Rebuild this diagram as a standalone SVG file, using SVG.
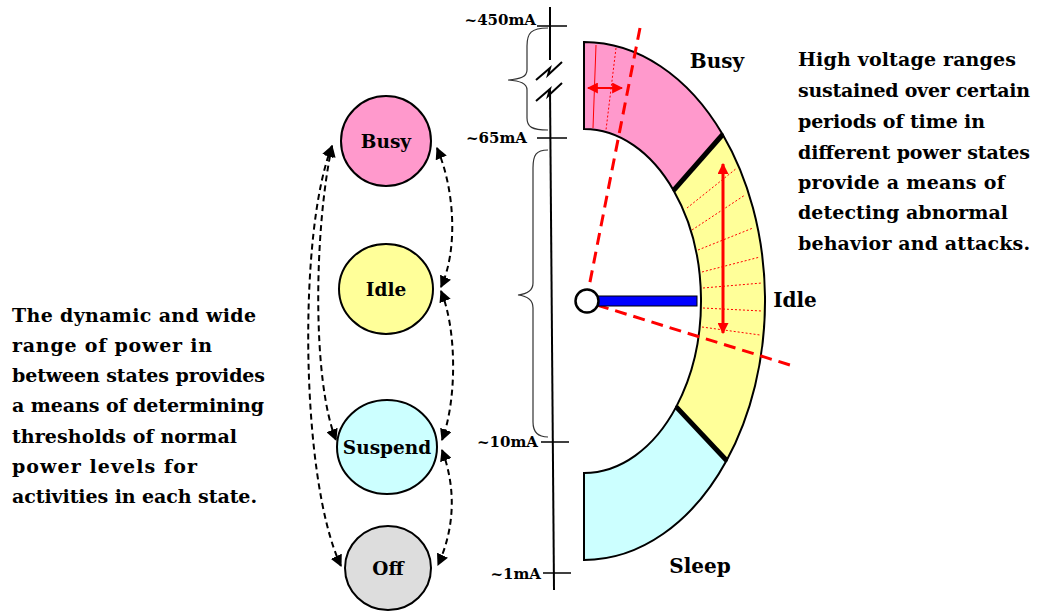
<svg xmlns="http://www.w3.org/2000/svg" width="1038" height="611" viewBox="0 0 1038 611">
<style>
  .t{font-family:"DejaVu Serif","Liberation Serif",serif;font-weight:bold;fill:#000}
  .para{font-size:19px}
  .node{font-size:18.5px;text-anchor:middle}
  .ax{font-size:15px;text-anchor:end}
  .lbl{font-size:20px;text-anchor:middle}
  .conn{fill:none;stroke:#000;stroke-width:2;stroke-dasharray:6,4}
  .band{stroke:#000;stroke-width:2}
  .dot{stroke:#ff0000;stroke-width:1;stroke-dasharray:2,2}
  .rdash{stroke:#ff0000;stroke-width:3;stroke-dasharray:12,7;fill:none}
  .brace{fill:none;stroke:#333;stroke-width:1.2}
</style>
<defs>
  <marker id="ah" viewBox="0 0 10 10" refX="9" refY="5" markerWidth="12" markerHeight="12" markerUnits="userSpaceOnUse" orient="auto-start-reverse">
    <path d="M0,0 L10,5 L0,10 z" fill="#000"/>
  </marker>
  <marker id="rah" viewBox="0 0 10 10" refX="9" refY="5" markerWidth="11" markerHeight="11" markerUnits="userSpaceOnUse" orient="auto-start-reverse">
    <path d="M0,0 L10,5 L0,10 z" fill="#ff0000"/>
  </marker>
</defs>
<rect width="1038" height="611" fill="#ffffff"/>

<!-- connectors -->
<g id="connectors">
  <path class="conn" d="M332,146 C298,230 300,480 341,566" marker-start="url(#ah)" marker-end="url(#ah)"/>
  <path class="conn" d="M332,146 C314,230 312,380 336,440" marker-start="url(#ah)" marker-end="url(#ah)"/>
  <path class="conn" d="M437,148 C455,190 458,250 441,287" marker-start="url(#ah)" marker-end="url(#ah)"/>
  <path class="conn" d="M441,291 C457,330 457,400 442,440" marker-start="url(#ah)" marker-end="url(#ah)"/>
  <path class="conn" d="M442,450 C457,490 454,530 438,565" marker-start="url(#ah)" marker-end="url(#ah)"/>
</g>

<!-- state nodes -->
<g id="node-busy">
  <ellipse cx="386" cy="141" rx="45" ry="45" fill="#ff99cc" stroke="#000" stroke-width="2"/>
  <text class="t node" x="386" y="148">Busy</text>
</g>
<g id="node-idle">
  <ellipse cx="386" cy="289" rx="47" ry="45" fill="#ffff99" stroke="#000" stroke-width="2"/>
  <text class="t node" x="386" y="296">Idle</text>
</g>
<g id="node-suspend">
  <ellipse cx="387" cy="447" rx="50" ry="47" fill="#ccffff" stroke="#000" stroke-width="2"/>
  <text class="t node" x="387" y="454">Suspend</text>
</g>
<g id="node-off">
  <ellipse cx="388" cy="568" rx="43" ry="42" fill="#dddddd" stroke="#000" stroke-width="2"/>
  <text class="t node" x="388" y="575">Off</text>
</g>

<!-- left paragraph -->
<g id="left-text" class="t para">
  <text x="12" y="322" textLength="244" lengthAdjust="spacing">The dynamic and wide</text>
  <text x="12" y="352" textLength="200" lengthAdjust="spacing">range of power in</text>
  <text x="12" y="382" textLength="253" lengthAdjust="spacing">between states provides</text>
  <text x="12" y="412" textLength="252" lengthAdjust="spacing">a means of determining</text>
  <text x="12" y="443" textLength="225" lengthAdjust="spacing">thresholds of normal</text>
  <text x="12" y="473" textLength="185" lengthAdjust="spacing">power levels for</text>
  <text x="12" y="503" textLength="245" lengthAdjust="spacing">activities in each state.</text>
</g>

<!-- right paragraph -->
<g id="right-text" class="t para">
  <text x="798" y="66" textLength="218" lengthAdjust="spacing">High voltage ranges</text>
  <text x="798" y="97" textLength="232" lengthAdjust="spacing">sustained over certain</text>
  <text x="798" y="128" textLength="187" lengthAdjust="spacing">periods of time in</text>
  <text x="798" y="159" textLength="232" lengthAdjust="spacing">different power states</text>
  <text x="798" y="189" textLength="207" lengthAdjust="spacing">provide a means of</text>
  <text x="798" y="219" textLength="210" lengthAdjust="spacing">detecting abnormal</text>
  <text x="798" y="250" textLength="232" lengthAdjust="spacing">behavior and attacks.</text>
</g>

<!-- current axis -->
<g id="axis">
  <line x1="550" y1="7" x2="550" y2="60" stroke="#000" stroke-width="2"/>
  <polyline points="536,80 550,68 548,75 562,62" fill="none" stroke="#000" stroke-width="2"/>
  <polyline points="536,101 550,89 548,96 562,83" fill="none" stroke="#000" stroke-width="2"/>
  <line x1="550" y1="90" x2="554" y2="590" stroke="#000" stroke-width="2"/>
  <line x1="537" y1="26" x2="567" y2="26" stroke="#000" stroke-width="1.5"/>
  <line x1="537" y1="138" x2="567" y2="138" stroke="#000" stroke-width="1.5"/>
  <line x1="541" y1="442" x2="569" y2="442" stroke="#000" stroke-width="1.5"/>
  <line x1="543" y1="573" x2="571" y2="573" stroke="#000" stroke-width="1.5"/>
  <text class="t ax" x="536" y="25">~450mA</text>
  <text class="t ax" x="527" y="143">~65mA</text>
  <text class="t ax" x="538" y="447">~10mA</text>
  <text class="t ax" x="541" y="579">~1mA</text>
  <path class="brace" d="M548,28 C531,28 527,33 527,46 L527,70 C527,77 520,79 508,80 C520,81 527,83 527,90 L527,118 C527,127 532,130 548,130"/>
  <path class="brace" d="M548,150 C536,150 533,155 533,168 L533,283 C533,290 527,294 518,295 C527,296 533,300 533,308 L533,422 C533,432 538,437 548,437"/>
</g>

<!-- gauge -->
<g id="gauge">
  <path class="band" fill="#ff99cc" d="M584,42 A181,259 0 0 1 722.7,134.5 L673.6,190.4 A117,172 0 0 0 584,129 Z"/>
  <path class="band" fill="#ffff99" d="M722.7,134.5 A181,259 0 0 1 726.6,460.5 L676.2,406.9 A117,172 0 0 0 673.6,190.4 Z"/>
  <path class="band" fill="#ccffff" d="M726.6,460.5 A181,259 0 0 1 584,560 L584,473 A117,172 0 0 0 676.2,406.9 Z"/>
  <line x1="722.7" y1="134.5" x2="673.6" y2="190.4" stroke="#000" stroke-width="5"/>
  <line x1="726.6" y1="460.5" x2="676.2" y2="406.9" stroke="#000" stroke-width="5"/>

  <line x1="596" y1="45" x2="593" y2="128" stroke="#ff0000" stroke-width="1"/>
  <line x1="616" y1="48" x2="606" y2="130" class="dot"/>
  <line x1="588" y1="88" x2="622" y2="88" stroke="#ff0000" stroke-width="2" marker-start="url(#rah)" marker-end="url(#rah)"/>

  <line x1="687" y1="208" x2="737" y2="168" class="dot"/>
  <line x1="692" y1="230" x2="745" y2="195" class="dot"/>
  <line x1="698" y1="250" x2="753" y2="228" class="dot"/>
  <line x1="702" y1="272" x2="760" y2="257" class="dot"/>
  <line x1="703" y1="288" x2="762" y2="283" class="dot"/>
  <line x1="703" y1="308" x2="762" y2="311" class="dot"/>
  <line x1="702" y1="327" x2="760" y2="335" class="dot"/>
  <line x1="723" y1="164" x2="723" y2="333" stroke="#ff0000" stroke-width="3" marker-start="url(#rah)" marker-end="url(#rah)"/>

  <line class="rdash" x1="640" y1="28" x2="588" y2="292"/>
  <line class="rdash" x1="597" y1="305" x2="790" y2="365"/>

  <rect x="597" y="296" width="100" height="10" fill="#0000ff" stroke="#000" stroke-width="1"/>
  <circle cx="587" cy="301" r="11.5" fill="#ffffff" stroke="#000" stroke-width="2.5"/>

  <text class="t lbl" x="717" y="68">Busy</text>
  <text class="t lbl" x="795" y="307">Idle</text>
  <text class="t lbl" x="700" y="573">Sleep</text>
</g>
</svg>
